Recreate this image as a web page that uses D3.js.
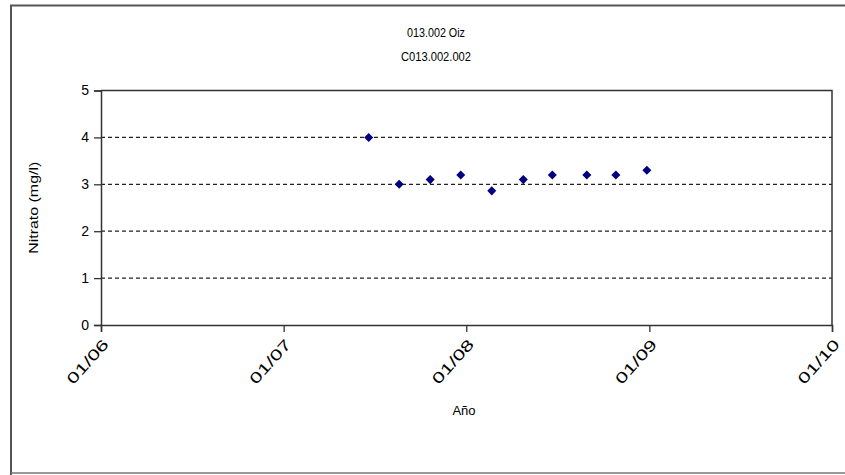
<!DOCTYPE html>
<html><head><meta charset="utf-8">
<script src="https://cdn.jsdelivr.net/npm/d3@7"></script>
<style>body{margin:0;background:#fff}svg{display:block}text{font-family:"Liberation Sans",Arial,sans-serif;fill:#000}</style>
</head><body><svg id="c" width="845" height="475"></svg>
<script>
const titleLines = ["013.002 Oiz", "C013.002.002"];
const yLabel = "Nitrato (mg/l)";
const xLabel = "Año";
const dates = ["2007-06-20","2007-08-20","2007-10-21","2007-12-21","2008-02-21","2008-04-24","2008-06-21","2008-08-29","2008-10-26","2008-12-27"];
const values = [4.0, 3.0, 3.1, 3.2, 2.86, 3.1, 3.2, 3.2, 3.2, 3.3];
const xTicks = ["2006-01-01","2007-01-01","2008-01-01","2009-01-01","2010-01-01"];
const yTicks = [0,1,2,3,4,5];

const svg = d3.select("#c");
const parse = d3.timeParse("%Y-%m-%d");
const L = 101, R = 832, T = 90.5, B = 325;
const x = d3.scaleTime().domain([parse(xTicks[0]), parse(xTicks[xTicks.length-1])]).range([L, R]);
const y = d3.scaleLinear().domain([0,5]).range([B, T]);

// outer frame
svg.append("path").attr("d", `M11,475 V5.5 H845`).attr("fill","none").attr("stroke","#555").attr("stroke-width",2);
svg.append("line").attr("x1",11).attr("x2",845).attr("y1",473).attr("y2",473).attr("stroke","#777").attr("stroke-width",1.5);

// title
const tl = [{y:37, w:58},{y:61, w:70}];
svg.selectAll(".title").data(titleLines).join("text")
  .attr("x", 436).attr("y",(d,i)=>tl[i].y).attr("text-anchor","middle")
  .attr("font-size","12px").attr("textLength",(d,i)=>tl[i].w).attr("lengthAdjust","spacingAndGlyphs").text(d=>d);

// gridlines
svg.append("g").selectAll("line").data(yTicks.filter(v=>v>0 && v<5)).join("line")
  .attr("x1",L).attr("x2",R).attr("y1",d=>y(d)).attr("y2",d=>y(d))
  .attr("stroke","#222").attr("stroke-width",1.2).attr("stroke-dasharray","4,3");

// plot frame top/right
svg.append("path").attr("d",`M${L},${T} H${R} V${B}`).attr("fill","none").attr("stroke","#333").attr("stroke-width",1.5);

// y axis
const ya = svg.append("g").attr("transform",`translate(${L},0)`)
  .call(d3.axisLeft(y).tickValues(yTicks).tickSize(7).tickPadding(5).tickFormat(d3.format("d")));
ya.select(".domain").attr("stroke","#333").attr("stroke-width",1.5);
ya.selectAll(".tick line").attr("stroke","#333").attr("stroke-width",1.3);
ya.selectAll("text").attr("font-size","14px").attr("font-family","Liberation Sans, Arial, sans-serif");

// x axis
const xa = svg.append("g").attr("transform",`translate(0,${B})`)
  .call(d3.axisBottom(x).tickValues(xTicks.map(parse)).tickSize(7).tickFormat(d3.timeFormat("%m/%y")));
xa.select(".domain").attr("stroke","#333").attr("stroke-width",1.5);
xa.selectAll(".tick line").attr("stroke","#333").attr("stroke-width",1.3);
xa.selectAll("text").attr("font-size","15px").attr("font-family","Liberation Sans, Arial, sans-serif")
  .attr("text-anchor","end").attr("dy","0").attr("dx","0").attr("y",0)
  .attr("textLength",54).attr("lengthAdjust","spacingAndGlyphs")
  .attr("transform","translate(8,20) rotate(-48)");

// axis labels
svg.append("text").attr("transform",`translate(38,${(T+B)/2}) rotate(-90)`)
  .attr("text-anchor","middle").attr("font-size","13px")
  .attr("textLength",92).attr("lengthAdjust","spacingAndGlyphs").text(yLabel);
svg.append("text").attr("x",464).attr("y",415).attr("text-anchor","middle").attr("font-size","13px")
  .text(xLabel);

// points
svg.append("g").selectAll("path").data(values.map((v,i)=>({d:parse(dates[i]),v})))
  .join("path").attr("transform",d=>`translate(${x(d.d)},${y(d.v)})`)
  .attr("d", d3.symbol(d3.symbolDiamond2 || d3.symbolDiamond, 52))
  .attr("fill","#000080");
</script></body></html>
